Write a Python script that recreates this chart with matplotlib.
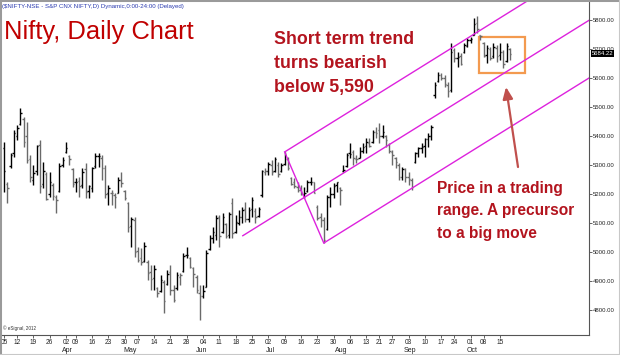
import numpy as np
import pandas as pd
import matplotlib
matplotlib.use("Agg")
import matplotlib.pyplot as plt
from matplotlib import font_manager as fm
from matplotlib.collections import LineCollection
from matplotlib.patches import Rectangle
import matplotlib.transforms as mtransforms

# ---------------- data ----------------
start_date = "2012-03-05"
end_date = "2012-10-18"
holidays = ["2012-03-08", "2012-04-05", "2012-04-06", "2012-05-01",
            "2012-08-15", "2012-08-20", "2012-09-19", "2012-10-02"]

opens = [
    # Mar
    5360, 5235, 5295, 5340, 5400, 5440, 5460, 5400, 5320, 5250, 5280, 5370, 5235, 5270, 5200, 5230, 5190, 5210, 5300,
    # Apr
    5345, 5330, 5285, 5240, 5245, 5230, 5285, 5210, 5220, 5295, 5330, 5325, 5290, 5205, 5205, 5195, 5205, 5250, 5210,
    # May
    5170, 5090, 5110, 5005, 4980, 4970, 4965, 4930, 4910, 4875, 4865, 4895, 4890, 4930, 4870, 4875, 4915, 4935, 4990, 4980, 4945, 4915,
    # Jun
    4860, 4850, 4880, 5010, 5050, 5060, 5120, 5070, 5095, 5060, 5170, 5070, 5100, 5120, 5150, 5115, 5150, 5140, 5125, 5195, 5275,
    # Jul
    5280, 5300, 5280, 5300, 5280, 5305, 5320, 5255, 5240, 5225, 5215, 5200, 5210, 5240, 5240, 5155, 5120, 5110, 5080, 5190, 5200, 5230,
    # Aug
    5220, 5280, 5295, 5340, 5345, 5320, 5325, 5350, 5365, 5375, 5380, 5415, 5420, 5400, 5400, 5370, 5345, 5325, 5300, 5260, 5285,
    # Sep
    5260, 5250, 5310, 5340, 5360, 5365, 5390, 5400, 5540, 5590, 5610, 5600, 5575, 5560, 5695, 5670, 5675, 5690, 5710,
    # Oct
    5730, 5750, 5790, 5750, 5720, 5680, 5700, 5675, 5705, 5680, 5690, 5660, 5700,
]
highs = [
    5379, 5241, 5340, 5420, 5438, 5497, 5466, 5448, 5334, 5300, 5369, 5386, 5310, 5276, 5276, 5238, 5197, 5307, 5328,
    5379, 5334, 5290, 5255, 5259, 5290, 5307, 5231, 5293, 5341, 5341, 5334, 5300, 5231, 5214, 5203, 5259, 5276, 5214,
    5172, 5121, 5121, 5017, 5014, 5034, 4972, 4955, 4955, 4879, 4921, 4903, 4938, 4955, 4886, 4931, 4928, 4997, 5017, 4983, 4948, 4921,
    4886, 4886, 5007, 5059, 5086, 5128, 5128, 5134, 5100, 5138, 5186, 5128, 5145, 5155, 5172, 5155, 5190, 5152, 5155, 5283, 5290,
    5310, 5317, 5328, 5310, 5307, 5345, 5328, 5259, 5255, 5241, 5231, 5224, 5248, 5259, 5241, 5162, 5135, 5121, 5197, 5224, 5238, 5241,
    5224, 5300, 5341, 5376, 5352, 5335, 5362, 5376, 5393, 5393, 5421, 5431, 5445, 5438, 5403, 5376, 5352, 5328, 5307, 5293, 5290,
    5276, 5255, 5345, 5362, 5376, 5393, 5410, 5438, 5586, 5621, 5617, 5610, 5586, 5721, 5704, 5690, 5686, 5721, 5738,
    5741, 5807, 5815, 5750, 5724, 5714, 5707, 5721, 5714, 5721, 5697, 5721, 5704,
]
lows = [
    5207, 5169, 5290, 5328, 5386, 5438, 5362, 5307, 5241, 5231, 5266, 5203, 5221, 5179, 5190, 5179, 5135, 5207, 5293,
    5341, 5300, 5224, 5207, 5190, 5221, 5186, 5186, 5207, 5290, 5293, 5248, 5186, 5162, 5162, 5152, 5203, 5224, 5179,
    5069, 5017, 4983, 4966, 4955, 4966, 4903, 4869, 4869, 4845, 4862, 4790, 4886, 4852, 4828, 4869, 4886, 4931, 4979, 4945, 4879, 4859,
    4766, 4841, 4879, 5007, 5031, 5041, 5017, 5065, 5048, 5048, 5050, 5065, 5093, 5100, 5103, 5103, 5121, 5100, 5121, 5190, 5266,
    5266, 5266, 5276, 5259, 5276, 5300, 5283, 5231, 5221, 5207, 5197, 5186, 5207, 5231, 5203, 5110, 5086, 5031, 5076, 5155, 5186, 5207,
    5162, 5276, 5293, 5324, 5300, 5307, 5324, 5341, 5341, 5362, 5376, 5393, 5376, 5393, 5362, 5341, 5300, 5290, 5248, 5248, 5241,
    5231, 5214, 5307, 5328, 5341, 5328, 5362, 5386, 5531, 5586, 5593, 5569, 5534, 5552, 5655, 5638, 5645, 5686, 5707,
    5721, 5748, 5755, 5731, 5672, 5652, 5662, 5669, 5655, 5662, 5635, 5655, 5662,
]
closes = [
    5280, 5222, 5333, 5410, 5429, 5480, 5380, 5317, 5257, 5274, 5364, 5228, 5278, 5184, 5243, 5194, 5178, 5295, 5317,
    5358, 5322, 5234, 5243, 5226, 5276, 5207, 5226, 5289, 5330, 5332, 5290, 5200, 5222, 5202, 5189, 5248, 5239, 5188,
    5086, 5114, 4999, 4974, 4966, 5020, 4928, 4907, 4942, 4858, 4905, 4830, 4925, 4870, 4835, 4921, 4920, 4985, 4990, 4950, 4924, 4870,
    4848, 4864, 4997, 5050, 5068, 5116, 5054, 5121, 5054, 5130, 5064, 5103, 5120, 5146, 5114, 5146, 5180, 5120, 5149, 5279, 5278,
    5302, 5275, 5320, 5270, 5300, 5335, 5290, 5235, 5227, 5215, 5200, 5205, 5241, 5242, 5205, 5117, 5109, 5043, 5190, 5199, 5229, 5240,
    5215, 5282, 5336, 5338, 5323, 5320, 5347, 5362, 5380, 5366, 5415, 5412, 5400, 5415, 5387, 5350, 5334, 5310, 5258, 5287, 5258,
    5253, 5225, 5342, 5359, 5363, 5391, 5400, 5431, 5577, 5610, 5600, 5580, 5555, 5691, 5669, 5673, 5650, 5715, 5730,
    5735, 5787, 5770, 5746, 5676, 5705, 5670, 5708, 5676, 5688, 5648, 5710, 5684.22,
]

y_ticks = [4800, 4900, 5000, 5100, 5200, 5300, 5400, 5500, 5600, 5700, 5800]

pivot_dates = ["2012-06-20", "2012-07-09", "2012-07-25"]
pivot_prices = [5055, 5345, 5031]

last_price = 5684.22
header = "($NIFTY-NSE - S&P CNX NIFTY,D) Dynamic,0:00-24:00 (Delayed)"
title = "Nifty, Daily Chart"
note_top = ["Short term trend", "turns bearish", "below 5,590"]
note_bottom = ["Price in a trading", "range. A precursor", "to a big move"]
box_prices = [5617, 5743]
copyright_txt = "\u00a9 eSignal, 2012"

# ---------------- fonts ----------------
def font_ok(name):
    try:
        fm.findfont(fm.FontProperties(family=name), fallback_to_default=False)
        return True
    except Exception:
        return False

HAS_NARROW = font_ok("Liberation Sans Narrow")
NARROW = "Liberation Sans Narrow" if HAS_NARROW else "Liberation Sans"
SANS = "Liberation Sans" if font_ok("Liberation Sans") else "DejaVu Sans"
wscale = 1.0 if HAS_NARROW else 0.84

# ---------------- calendar ----------------
dates = pd.bdate_range(start_date, end_date)
dates = dates[~dates.isin(pd.to_datetime(holidays))]
n = len(dates)
assert n == len(opens) == len(highs) == len(lows) == len(closes)
xs = np.arange(n)

W, H = 620, 355
fig = plt.figure(figsize=(W / 100, H / 100), dpi=100)
fig.patch.set_facecolor("white")

def fx(px):
    return px / W

def fy(py):
    return 1 - py / H

ax_left_px, ax_right_px, ax_top_px, ax_bot_px = 1, 589, 0, 335
ax = fig.add_axes([fx(ax_left_px), fy(ax_bot_px), (ax_right_px - ax_left_px) / W, (ax_bot_px - ax_top_px) / H])

# pixel mapping from the reference: x = 4 + 3.263*i ; price = 5869 - 3.448*y
px_per_bar = 3.263
x0_px = 4.0
ax.set_xlim((ax_left_px - x0_px) / px_per_bar, (ax_right_px - x0_px) / px_per_bar)
ax.set_ylim(5869 - 3.448 * ax_bot_px, 5869 - 3.448 * ax_top_px)

# ---------------- OHLC bars ----------------
o = np.array(opens, float); h = np.array(highs, float)
l = np.array(lows, float); c = np.array(closes, float)
prev = np.r_[c[0], c[:-1]]
cols = np.where(c >= prev, "#000000", "#6a6a6a")
tw = 0.45
segs, scol = [], []
for i in range(n):
    segs.append([(xs[i], l[i]), (xs[i], h[i])])
    segs.append([(xs[i] - tw, o[i]), (xs[i], o[i])])
    segs.append([(xs[i], c[i]), (xs[i] + tw, c[i])])
    scol += [cols[i]] * 3
ax.add_collection(LineCollection(segs, colors=scol, linewidths=1.0, capstyle="butt"))

# ---------------- pitchfork ----------------
pidx = [dates.get_loc(pd.Timestamp(d)) for d in pivot_dates]
(p0x, p1x, p2x) = pidx
(p0y, p1y, p2y) = pivot_prices
midx, midy = (p1x + p2x) / 2, (p1y + p2y) / 2
slope = (midy - p0y) / (midx - p0x)
xend = ax.get_xlim()[1] + 5
mag = "#DD22DD"
for (sx, sy) in [(p0x, p0y), (p1x, p1y), (p2x, p2y)]:
    ax.plot([sx, xend], [sy, sy + slope * (xend - sx)], color=mag, lw=1.0, solid_capstyle="butt")
ax.plot([p1x, p2x], [p1y, p2y], color=mag, lw=1.0)

# ---------------- box and arrow ----------------
bx0 = (479.3 - x0_px) / px_per_bar
bx1 = (525.0 - x0_px) / px_per_bar
ax.add_patch(Rectangle((bx0, box_prices[0]), bx1 - bx0, box_prices[1] - box_prices[0],
                       fill=False, edgecolor="#F39A4F", lw=1.6))
ax.annotate("", xy=(506, H - 87), xytext=(518, H - 167), xycoords="figure pixels",
            textcoords="figure pixels",
            arrowprops=dict(arrowstyle="-|>,head_length=0.7,head_width=0.3", color="#C0504D",
                            lw=1.6, shrinkA=0, shrinkB=0))

# ---------------- axes styling ----------------
for s in ["left", "top"]:
    ax.spines[s].set_visible(False)
for s in ["bottom", "right"]:
    ax.spines[s].set_color("#555555")
    ax.spines[s].set_linewidth(0.8)

ax.yaxis.tick_right()
ax.set_yticks(y_ticks)
ax.set_yticklabels([f"{v:.2f}" for v in y_ticks], fontsize=5.2 * wscale, family=NARROW)
ax.tick_params(axis="y", length=2, width=0.5, pad=1, colors="#222222")

# weekly labels: first trading day of each week
keys = [(d.isocalendar()[0], d.isocalendar()[1]) for d in dates]
week_idx, week_lbl = [], []
seen = set()
for i, k in enumerate(keys):
    if k not in seen:
        seen.add(k)
        week_idx.append(i)
        week_lbl.append(dates[i].strftime("%d"))
ax.set_xticks(week_idx)
ax.set_xticklabels(week_lbl, fontsize=5.6 * wscale, family=NARROW)
ax.tick_params(axis="x", length=2, width=0.5, pad=1.2, colors="#222222")

# month labels
trans = mtransforms.blended_transform_factory(ax.transData, ax.transAxes)
months_seen = set([dates[0].month])
for i, d in enumerate(dates):
    if d.month not in months_seen:
        months_seen.add(d.month)
        ax.text(i + 0.5, -15 / (ax_bot_px - ax_top_px), d.strftime("%b"), transform=trans,
                ha="center", va="center", fontsize=6 * wscale, family=NARROW, color="#222222")

# last price tag
ax.text(1.0 + 3 / (ax_right_px - ax_left_px), last_price, f"{last_price:.2f}",
        transform=mtransforms.blended_transform_factory(ax.transAxes, ax.transData),
        ha="left", va="center", fontsize=5.2 * wscale, family=NARROW, color="white",
        bbox=dict(facecolor="black", edgecolor="none", pad=0.6), clip_on=False)

# ---------------- texts ----------------
fig.text(fx(2), fy(6.5), header, fontsize=5.3 * wscale, family=NARROW, color="#2B3BB0",
         ha="left", va="center")
fig.text(fx(4), fy(39.5), title, fontsize=18.4, family=SANS, color="#C00000",
         ha="left", va="baseline")
for k, line in enumerate(note_top):
    fig.text(fx(274), fy(44 + 24 * k), line, fontsize=15.2 * wscale, family=NARROW,
             weight="bold", color="#B3141E", ha="left", va="baseline")
for k, line in enumerate(note_bottom):
    fig.text(fx(437), fy(193 + 22.5 * k), line, fontsize=13.3 * wscale, family=NARROW,
             weight="bold", color="#B3141E", ha="left", va="baseline")
fig.text(fx(3), fy(328), copyright_txt, fontsize=3.3, family=SANS, color="#333333",
         ha="left", va="center")

# figure frame
for (xa, ya) in [([0, 0], [0, 1]), ([0, 1], [1, 1])]:
    fig.add_artist(plt.Line2D(xa, ya, transform=fig.transFigure, color="#9a9a9a", lw=2.2))
fig.add_artist(plt.Line2D([0, 1], [0, 0], transform=fig.transFigure, color="#c8c8c8", lw=1.5))
fig.add_artist(plt.Line2D([1, 1], [0, 1], transform=fig.transFigure, color="#c8c8c8", lw=1.5))

fig.savefig("out.png", dpi=100, facecolor="white")
